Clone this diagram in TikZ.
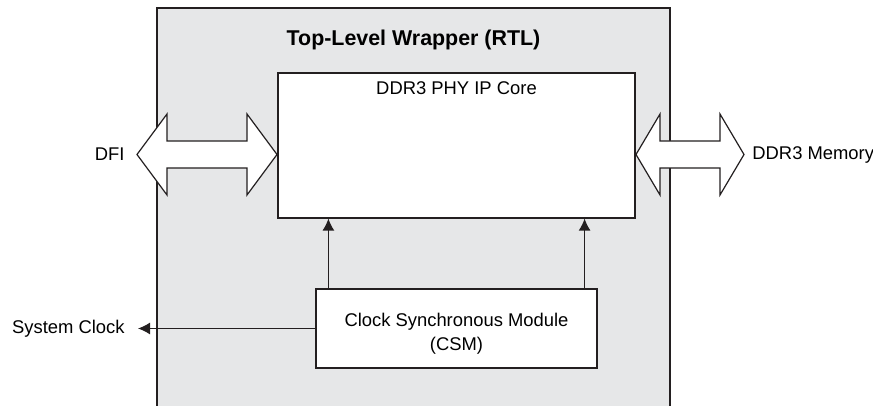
\documentclass[tikz,border=0pt]{standalone}
\usepackage{fontspec}
\setmainfont{Liberation Sans}
\usetikzlibrary{arrows.meta,positioning}
\definecolor{wrapgray}{HTML}{E6E7E8}
\definecolor{inkcol}{HTML}{231F20}
\tikzset{
  blockbox/.style={draw=inkcol, fill=white, line width=0.6pt, inner sep=0pt},
  sig/.style={draw=inkcol, line width=0.6pt, -{Latex[length=6pt,width=6pt]}},
  bus/.style={draw=inkcol, fill=white, line width=0.6pt, line join=miter},
  lbl/.style={font=\fontsize{9.2}{12}\selectfont, text=black, inner sep=0pt},
}
% bus arrow: left tip, left shoulder, right shoulder, right tip, centre y
\newcommand\busarrow[5]{%
  \draw[bus] (#1,#5) -- (#2,#5-40.5) -- (#2,#5-13.5) -- (#3,#5-13.5) -- (#3,#5-40.5)
    -- (#4,#5) -- (#3,#5+40.5) -- (#3,#5+13.5) -- (#2,#5+13.5) -- (#2,#5+40.5) -- cycle;}
\begin{document}
\begin{tikzpicture}[x=0.5pt,y=-0.5pt]
  \useasboundingbox (0,0) rectangle (873,406);
  % Node: wrapper
  \fill[wrapgray] (157,8) rectangle (670,420);
  \draw[inkcol, line width=0.6pt] (157,420) -- (157,8) -- (670,8) -- (670,420);
  \node[font=\bfseries\fontsize{10.7}{13}\selectfont, inner sep=0pt] (title) at (413.5,40) {Top-Level Wrapper (RTL)};
  % Node: core
  \node[blockbox, minimum width=178.5pt, minimum height=72.5pt] (core) at (456.5,145.5) {};
  \node[lbl] (coretxt) at ([yshift=-8pt]core.north) {DDR3 PHY IP Core};
  % Node: csm
  \node[blockbox, minimum width=140.5pt, minimum height=39.5pt] (csm) at (456.5,328.5) {};
  \node[lbl, align=center] (csmtxt) at ([yshift=-2.5pt]csm.center) {Clock Synchronous Module\\(CSM)};
  % Node: outside labels
  \node[lbl, anchor=east] (dfi) at (125,154.5) {DFI};
  \node[lbl, anchor=west] (mem) at (752,154.5) {DDR3 Memory};
  \node[lbl, anchor=east] (clk) at (125,328.5) {System Clock};
  % Edge: csm -> core
  \draw[sig] ([xshift=6.5pt]csm.north west) -- ([xshift=6.5pt]csm.north west |- core.south);
  \draw[sig] ([xshift=-6.5pt]csm.north east) -- ([xshift=-6.5pt]csm.north east |- core.south);
  % Edge: csm -> clk
  \draw[sig] (csm.west) -- ([xshift=6.5pt]clk.east);
  % Edge: dfi <-> core, core <-> mem
  \busarrow{137}{167}{247}{277}{154.5}
  \busarrow{636}{660}{720}{744}{154.5}
\end{tikzpicture}
\end{document}
